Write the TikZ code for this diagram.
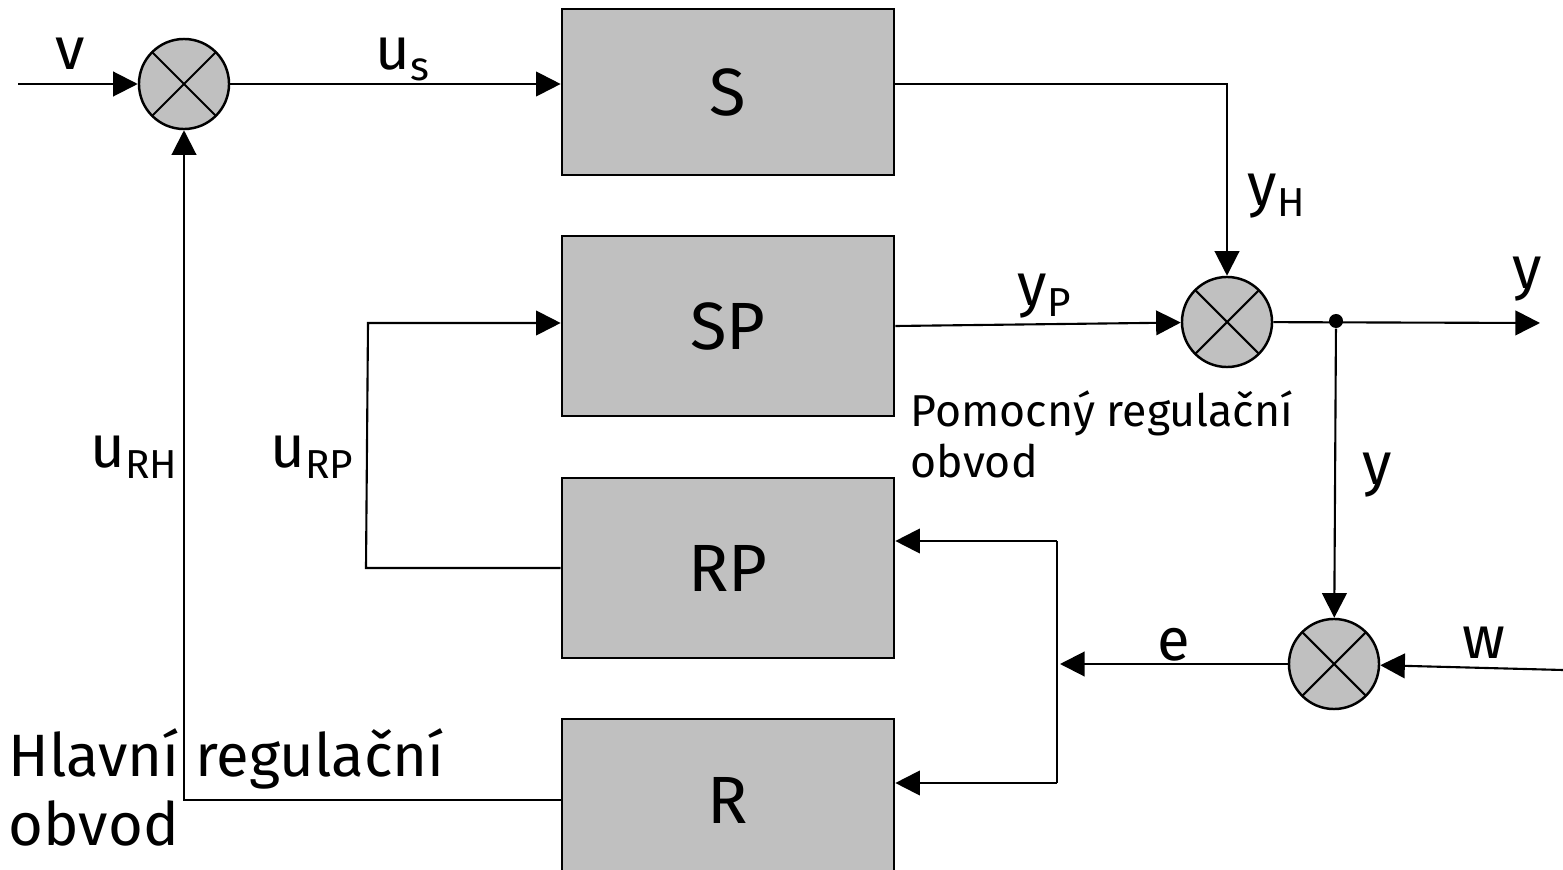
\documentclass[tikz,border=0pt]{standalone}
\usepackage{fontspec}
\setmainfont{Fira Sans}
\usetikzlibrary{arrows.meta}
\definecolor{boxgray}{HTML}{C0C0C0}
\newcommand{\idx}[1]{\raisebox{-3pt}{\fontsize{11.5}{11.5}\selectfont #1}}
\tikzset{block/.style = {draw, fill = boxgray, line width = 0.7pt, minimum width = 3.32cm, font = \fontsize{19}{19}\selectfont}}
\tikzset{sumj/.style = {circle, draw, fill = boxgray, line width = 0.7pt, minimum size = 0.9cm, inner sep = 0pt,
  path picture = {\draw[line width = 0.6pt] (path picture bounding box.south west) -- (path picture bounding box.north east)
  (path picture bounding box.north west) -- (path picture bounding box.south east);}}}
\tikzset{sig/.style = {line width = 0.6pt, -{Triangle[length = 7pt, width = 7pt]}}}
\tikzset{wire/.style = {line width = 0.6pt}}
\tikzset{lbl/.style = {anchor = base west, inner sep = 0pt, font = \fontsize{17}{17}\selectfont}}

\begin{document}
\begin{tikzpicture}[x = 0.01cm, y = -0.01cm]
\useasboundingbox (0,0) rectangle (1563,870);
\node[block, minimum height = 1.66cm] (S) at (728,92) {S};
\node[block, minimum height = 1.8cm] (SP) at (728,326) {SP};
\node[block, minimum height = 1.8cm] (RP) at (728,568) {RP};
\node[block, minimum height = 1.62cm] (R) at (728,800) {R};
\node[sumj] (j1) at (184,84) {};
\node[sumj] (j2) at (1227,322) {};
\node[sumj] (j3) at (1334,664) {};
\node[circle, fill, inner sep = 0pt, minimum size = 1.4mm] (br) at (1336,321) {};
\coordinate (vin) at (18,84);
\coordinate (win) at (1563,670);
\coordinate (yout) at (1540,323);
\coordinate (ein) at (1060,664);
\coordinate (bt) at (1057,541);
\coordinate (bb) at (1057,783);
\coordinate (k1) at (366,568);
\coordinate (k2) at (368,323);
\draw[sig] (vin) -- (j1);
\draw[sig] (j1) -- (j1 -| S.west);
\draw[sig] (S.east |- j1) -| (j2);
\draw[sig] (SP.east) -- (j2);
\draw[sig] (j2) -- (yout);
\draw[sig] (br) -- (j3);
\draw[sig] (win) -- (j3);
\draw[sig] (j3) -- (ein);
\draw[wire] (bt) -- (bb);
\draw[sig] (bt) -- (bt -| RP.east);
\draw[sig] (bb) -- (bb -| R.east);
\draw[sig] (RP.west) -- (k1) -- (k2) -- (k2 -| SP.west);
\draw[sig] (R.west) -| (j1);
\node[lbl] (lv) at (55,70) {v};
\node[lbl] (lus) at (375,70) {u\idx{s}};
\node[lbl] (lyh) at (1247,206) {y\idx{H}};
\node[lbl] (lyp) at (1017,306) {y\idx{P}};
\node[lbl] (ly1) at (1512,289) {y};
\node[lbl] (ly2) at (1362,485) {y};
\node[lbl] (lw) at (1462,658) {w};
\node[lbl] (le) at (1157,660) {e};
\node[lbl] (lurh) at (90,468) {u\idx{RH}};
\node[lbl] (lurp) at (270,468) {u\idx{RP}};
\node[anchor = base west, align = left, inner sep = 0pt, font = \fontsize{12.7}{14.7}\selectfont] (pom) at (910,478) {Pomocný regulační\\obvod};
\node[anchor = base west, align = left, inner sep = 0pt, font = \fontsize{17}{19.6}\selectfont] (hla) at (8,845) {Hlavní regulační\\obvod};
\end{tikzpicture}
\end{document}
